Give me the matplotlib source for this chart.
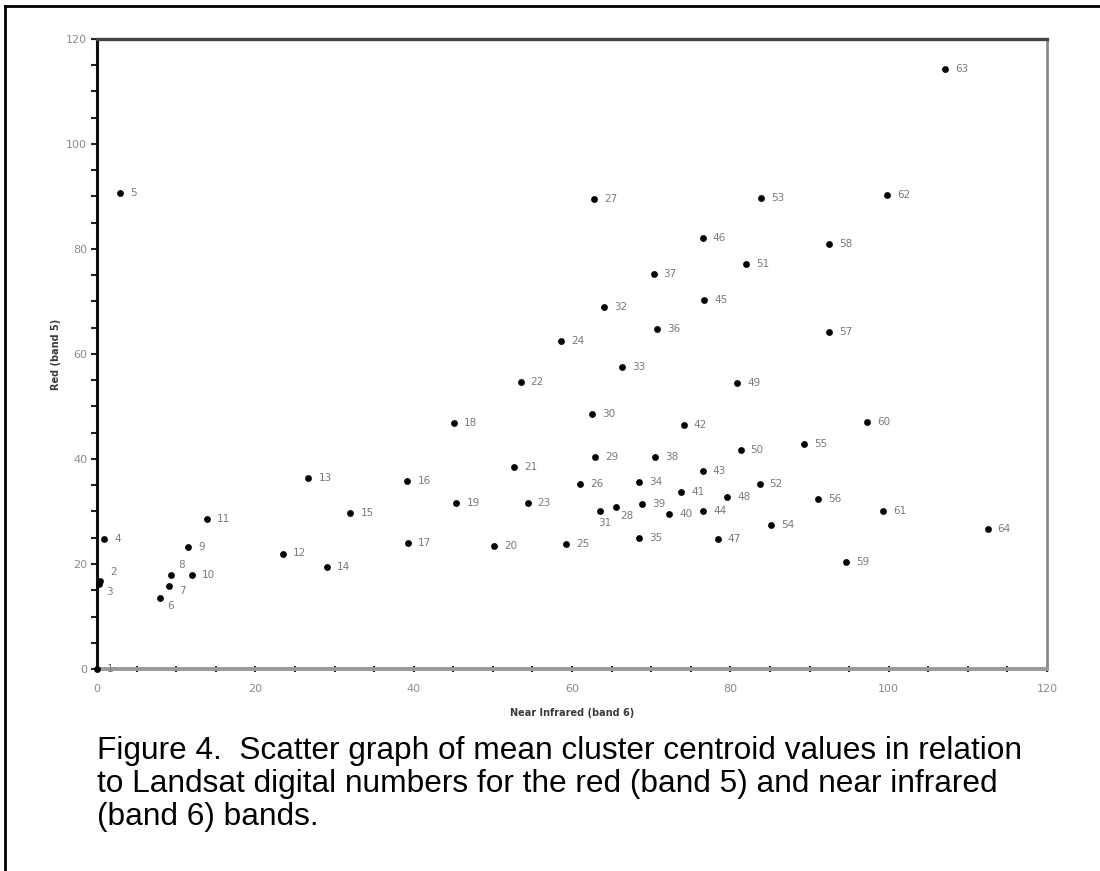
import matplotlib
matplotlib.use("Agg")
import matplotlib.pyplot as plt
from matplotlib.lines import Line2D
from matplotlib.ticker import MultipleLocator

# ---- data ----
cluster_ids = list(range(1, 65))
nir_band6 = [0.0, 0.4, 0.2, 0.9, 2.9, 7.9, 9.1, 9.3, 11.5, 12.0,
             13.9, 23.5, 26.7, 29.0, 32.0, 39.2, 39.3, 45.1, 45.4, 50.2,
             52.7, 53.5, 54.4, 58.6, 59.3, 61.0, 62.8, 65.6, 62.9, 62.5,
             63.5, 64.0, 66.3, 68.5, 68.5, 70.7, 70.3, 70.5, 68.8, 72.3,
             73.8, 74.1, 76.5, 76.6, 76.7, 76.5, 78.4, 79.6, 80.9, 81.3,
             82.0, 83.7, 83.9, 85.1, 89.3, 91.1, 92.5, 92.5, 94.6, 97.3,
             99.3, 99.8, 107.1, 112.5]
red_band5 = [0.0, 16.8, 16.1, 24.8, 90.7, 13.5, 15.9, 18.0, 23.2, 18.0,
             28.6, 22.0, 36.4, 19.5, 29.7, 35.8, 24.0, 46.9, 31.6, 23.5,
             38.5, 54.6, 31.7, 62.5, 23.9, 35.2, 89.5, 30.9, 40.4, 48.6,
             30.0, 69.0, 57.5, 35.6, 25.0, 64.7, 75.2, 40.4, 31.4, 29.6,
             33.7, 46.5, 37.8, 30.0, 70.3, 82.0, 24.8, 32.7, 54.5, 41.8,
             77.1, 35.3, 89.7, 27.4, 42.9, 32.3, 64.2, 80.9, 20.3, 47.0,
             30.0, 90.2, 114.2, 26.7]
x_ticks = [0, 20, 40, 60, 80, 100, 120]
y_ticks = [0, 20, 40, 60, 80, 100, 120]
x_label = "Near Infrared (band 6)"
y_label = "Red (band 5)"
caption = ("Figure 4.  Scatter graph of mean cluster centroid values in relation\n"
           "to Landsat digital numbers for the red (band 5) and near infrared\n"
           "(band 6) bands.")

# label placement (pixel offsets) for a few crowded points
label_offsets = {2: (10, 9), 3: (8, -8), 6: (8, -8), 7: (10, -5), 8: (8, 9),
                 28: (4, -9), 31: (-2, -11)}
default_offset = (10, 0)

fig = plt.figure(figsize=(11.0, 8.71), dpi=100)
ax = fig.add_axes([97 / 1100, 1 - 669 / 871, (1047 - 97) / 1100, (669 - 39) / 871])

ax.scatter(nir_band6, red_band5, s=24, color="black", zorder=5, clip_on=False,
           linewidths=0)
for cid, xv, yv in zip(cluster_ids, nir_band6, red_band5):
    dx, dy = label_offsets.get(cid, default_offset)
    ax.annotate(str(cid), (xv, yv), xytext=(dx, dy), textcoords="offset pixels",
                ha="left", va="center", fontsize=7.5, color="#7a7a7a",
                family="DejaVu Sans", zorder=6)

ax.set_xlim(0, 120)
ax.set_ylim(0, 120)
ax.set_xticks(x_ticks)
ax.set_yticks(y_ticks)
ax.xaxis.set_minor_locator(MultipleLocator(5))
ax.yaxis.set_minor_locator(MultipleLocator(5))
ax.tick_params(axis="y", which="both", direction="out", length=4, width=1.5,
               color="#222222", labelsize=8, labelcolor="#8a8a8a", pad=3)
ax.tick_params(axis="x", which="both", direction="inout", length=4, width=1.5,
               color="#222222", labelsize=8, labelcolor="#8a8a8a", pad=9)
for lbl in ax.get_xticklabels() + ax.get_yticklabels():
    lbl.set_family("DejaVu Sans")

ax.spines["left"].set_color("#111111")
ax.spines["left"].set_linewidth(2.2)
ax.spines["bottom"].set_color("#9a9a9a")
ax.spines["bottom"].set_linewidth(2.8)
ax.spines["top"].set_color("#444444")
ax.spines["top"].set_linewidth(2.4)
ax.spines["right"].set_color("#8a8a8a")
ax.spines["right"].set_linewidth(2.0)

ax.set_xlabel(x_label, fontsize=7, fontweight="bold", color="#3a3a3a",
              family="DejaVu Sans", labelpad=10)
ax.set_ylabel(y_label, fontsize=7, fontweight="bold", color="#3a3a3a",
              family="DejaVu Sans", labelpad=4)

fig.text(97 / 1100, 1 - 736 / 871, caption, ha="left", va="top",
         fontsize=22.8, family="Liberation Sans", color="black", linespacing=1.14)

# outer page frame (left and top edges)
fig.add_artist(Line2D([5 / 1100, 5 / 1100], [0, 1 - 6 / 871], transform=fig.transFigure,
                      color="black", linewidth=2))
fig.add_artist(Line2D([5 / 1100, 1], [1 - 6 / 871, 1 - 6 / 871], transform=fig.transFigure,
                      color="black", linewidth=2))

fig.savefig("out.png", dpi=100)
